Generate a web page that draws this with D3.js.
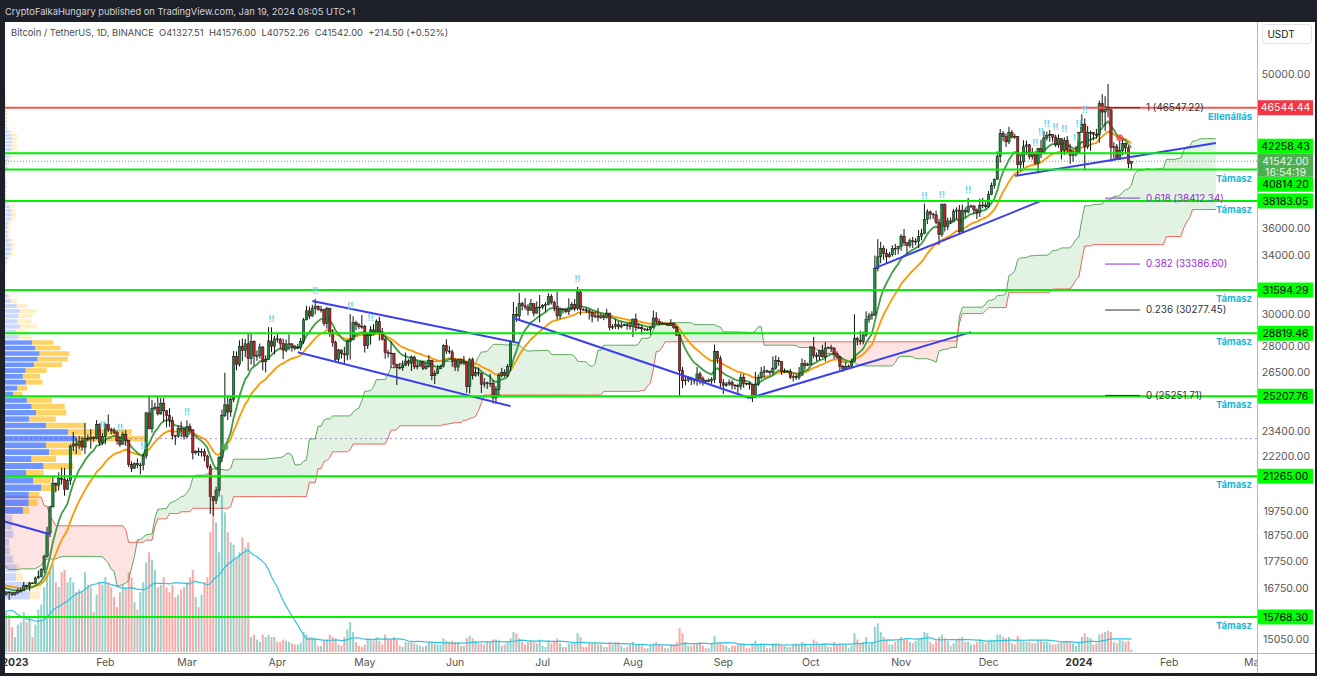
<!DOCTYPE html>
<html>
<head>
<meta charset="utf-8">
<script src="https://cdn.jsdelivr.net/npm/d3@7"></script>
<style>
  html, body { margin: 0; padding: 0; background: #1e2029; }
  svg { display: block; font-family: Inter, "Noto Sans", sans-serif; }
</style>
</head>
<body>
<svg id="chart" width="1317" height="676"></svg>
<script>

// ---- data (daily BTC/USDT, Binance) ----
const firstDay = '2022-08-01';

const closes = [
  22980,22820,22620,22610,23310,22950,23180,23810,23160,23950,23940,24400,24440,24300,24100,23850,23340,23190,20830,21140,21520,21400,21530,21370,21560,20240,20040,19550,20290,19800,20050,
  20130,19950,19830,19990,19800,18790,19290,19320,21360,21650,21830,22400,20170,20230,19700,19800,20110,19420,19540,18880,18490,19410,19290,18920,18800,19220,19080,19410,19590,19420,
  19310,19050,19630,20340,20160,19960,19530,19420,19450,19130,19060,19160,19380,19180,19070,19260,19550,19330,19120,19040,19160,19200,19570,19330,20080,20770,20290,20600,20810,20630,20490,
  20480,20150,20210,21150,21300,20910,20600,18540,15880,17590,17060,16810,16330,16620,16900,16660,16690,16700,16630,16280,15780,16230,16600,16600,16520,16460,16430,16210,16440,17160,
  16980,17090,16890,17110,16970,17090,16840,17220,17130,17130,17090,17210,17780,17800,17360,16630,16780,16740,16440,16900,16830,16820,16780,16830,16830,16920,16700,16550,16630,16600,16540,
  16620,16670,16670,16850,16830,16950,16940,17130,17180,17440,17940,18850,19930,20950,20870,21180,21130,20680,21070,22670,22780,22710,22920,22630,23060,23010,23080,23030,23740,22830,23130,
  23730,23490,23430,23330,22930,22760,23250,22960,21800,21630,21860,21780,21780,22200,24330,23520,24570,24630,24280,24840,24440,24190,23950,23190,23160,23550,23490,23140,
  23630,23470,22350,22430,22410,22410,22200,21700,20360,20190,20630,22140,24200,24750,24380,25050,27420,26970,28040,27770,28180,27310,28330,27480,27480,27990,27140,27270,28350,28030,28480,
  28450,28200,27800,28170,28180,28040,27920,27950,28330,29650,30230,29890,30390,30490,30320,30320,29430,30380,28800,28250,27270,27820,27590,27520,28310,28420,29470,29340,29250,29230,
  28070,28680,29030,28850,29540,28900,28450,27660,27630,27620,26990,26800,26780,26930,27170,27030,27400,26830,26890,27120,26750,26850,27220,26330,26470,26720,26860,28080,27750,27700,27220,
  26820,27250,27070,27120,25740,27240,26340,26500,26480,25850,25940,25900,25920,25120,25580,26340,26520,26340,26850,28310,30000,29890,30690,30550,30470,30270,30690,30080,30450,30470,
  30590,30620,31160,30770,30500,29900,30350,30290,30170,30410,30620,30380,31470,30320,30290,30230,30140,29860,29910,29800,29910,29790,30080,29180,29230,29350,29210,29310,29350,29280,29230,
  29700,29170,29180,29090,29040,29040,29180,29770,29560,29430,29400,29420,29300,29430,29170,28700,26620,26050,26090,26180,26120,26040,26430,26160,26060,26010,26090,26110,27720,27300,25940,
  25800,25870,25970,25810,25780,25750,26240,25910,25900,25840,25160,25840,26220,26530,26610,26570,26530,26760,27210,27130,26570,26580,26580,26250,26300,26220,26370,27020,26910,26970,
  27990,27490,27430,27790,27410,27930,27960,27920,27590,27390,26870,26750,26860,26860,27150,28500,28400,28320,28710,29670,29910,29990,33070,33900,34500,34150,33890,34080,34520,34480,34650,
  35420,34940,34730,35080,35010,35050,35420,35620,36700,37310,37130,37060,36490,35550,37880,36160,36590,36570,37360,37450,35760,37420,37290,37720,37780,37450,37240,37820,37850,37710,
  38690,39470,39970,41980,44080,43770,43290,44170,43720,43790,41240,41480,42890,43020,41940,42260,41360,42660,42270,43650,43860,43990,43730,43010,43580,42520,43440,42580,42070,42140,42280,
  44180,44950,42850,44150,44160,43970,43930,46950,46120,46630,46340,42780,42840,41730,42510,43140,42740,41327.51,41542.00
];

const highs = [
  23510,23460,23650,22990,23450,23360,23390,24250,23920,24230,24920,24450,24890,25050,25210,24280,24450,23600,23230,21390,21690,21560,21680,21900,21820,21890,20340,20140,20420,20560,20490,
  20200,20180,20050,20010,20050,20180,19460,19440,21500,21790,21850,22800,22490,20540,20380,19900,20190,20100,19690,19640,19960,19490,19500,19320,19180,19320,20380,19790,19650,20180,
  19480,19390,19720,20480,20370,20460,20060,19620,19520,19520,19260,19230,19530,19950,19230,19400,19690,19700,19350,19350,19250,19260,19700,19600,20410,21020,20870,20750,21090,20930,20840,
  20690,20800,20390,21300,21480,21370,20990,20700,18590,18150,17650,17140,16930,17200,17130,16980,16730,16870,16820,16640,16290,16300,16700,16810,16620,16670,16600,16480,16530,17250,
  17320,17110,17160,17200,17420,17110,17140,17300,17360,17230,17270,17240,18000,18390,17850,17530,16800,16870,16820,16950,16900,16850,16900,16870,16860,16940,16970,16790,16650,16640,16630,
  16630,16760,16780,16990,16880,16990,16970,17180,17400,17490,18000,19100,19970,21260,20990,21440,21650,21650,21180,22750,23370,23080,23170,23130,23810,23240,23500,23160,23960,23800,23300,
  23810,24250,23580,23570,23430,23160,23380,23450,22980,21950,21900,22090,21890,22310,24380,25250,25020,24870,25190,25120,25130,24480,24580,24130,23220,23670,23880,23600,
  23950,23790,23490,22470,22600,22550,22550,22260,21820,20370,20790,22200,24500,26500,25250,25190,27750,27730,28390,28500,28470,28800,28800,28390,27790,28200,28040,27500,29200,29180,28660,
  28800,28530,28500,28440,28750,28200,28100,28180,28530,29770,30550,30500,30620,31000,30590,30550,30340,30490,30420,29080,28370,27880,27820,28000,28400,30020,29880,29600,29450,29960,
  29340,28900,29270,29380,29680,29840,29140,28640,27830,28320,27640,26990,27050,27200,27660,27270,27490,27470,27190,27150,27160,27050,27500,27220,26630,26920,26930,28150,28450,28040,27830,
  27350,27300,27320,27460,27140,27350,27370,26800,26790,26500,26200,26000,26440,26080,25750,26480,26780,26690,27000,28400,30800,30500,31390,30810,31050,30660,31000,30700,30830,31260,
  30660,30800,31380,31320,30880,31500,30450,30380,30430,31040,30800,30990,31800,31640,30390,30450,30340,30240,30190,30410,30050,29990,30350,30100,29380,29680,29570,29530,29420,29450,29530,
  29740,30050,29410,29310,29100,29170,29240,30250,30140,29730,29550,29470,29450,29700,29490,29250,28780,26820,26260,26300,26270,26130,26820,26560,26290,26110,26180,26250,28140,27760,27480,
  26140,25980,26130,26080,25860,25890,26440,26420,25940,25980,25880,26550,26400,26820,26880,26670,26630,27440,27490,27390,27160,26740,26630,26720,26420,26390,26820,27310,27230,27090,
  28060,28590,27670,27830,28120,28290,28020,28120,27980,27730,27480,26950,27100,26970,27290,30000,28610,28980,28920,30200,30100,30200,34000,35200,35000,34720,34480,34250,34740,34850,34720,
  35580,35970,34940,35250,35380,35280,35890,35980,37970,37520,37410,37230,37400,36760,37980,37980,36850,36860,37540,37670,37850,37890,37660,38420,37890,37820,37580,38370,38430,38170,
  38990,39700,40050,42420,44490,44300,44050,44700,44370,44050,43800,42050,43430,43400,43090,42750,42440,42750,43490,44280,44230,44390,43820,43950,43980,43600,43700,43820,43120,42600,42900,
  44230,45900,45500,44770,44340,44200,44500,47250,47900,47700,48969,46500,43260,43100,43400,43580,43200,42900,41576.00
];

const lows = [
  22850,22670,22410,22430,22570,22940,22830,23050,22870,22700,23890,23580,24290,24150,23780,23560,23180,23130,20780,19770,20860,20850,21040,21140,21320,20140,19810,19520,19590,19560,19790,
  19600,19730,19650,19600,19640,18680,18550,18970,19310,21120,21340,21620,19850,19620,19500,19320,19650,19360,18230,18730,18150,18370,18620,18630,18630,18680,18820,18470,18840,19160,
  19160,19020,19060,19510,19740,19860,19320,19320,19320,19040,18860,19030,18190,19090,18980,19060,19180,19100,19090,18900,18660,19120,19080,19250,19240,20050,20200,20000,20560,20530,20250,
  20360,20050,20050,20170,21080,20860,20390,17170,15590,15790,16360,16750,16270,15810,16520,16570,16550,16630,16550,16240,15480,15770,16170,16550,16340,16400,16400,16000,16200,16420,
  16860,16790,16860,16880,16880,16900,16680,16740,17080,17110,17070,16870,17090,17650,17280,16530,16580,16650,16390,16400,16730,16660,16780,16760,16710,16800,16600,16460,16500,16350,16480,
  16500,16550,16600,16660,16760,16670,16910,16910,17100,17150,17310,17890,18690,19890,20550,20630,20900,20400,20650,20870,22440,22290,22520,22450,22300,22900,22550,22890,23000,22720,22740,
  22760,23360,23250,23260,22750,22630,22760,22680,21690,21460,21600,21630,21350,21530,22070,23500,23330,24460,24200,24240,23880,23590,23620,22990,22720,23070,23110,22990,
  23060,23230,22040,22270,22200,22170,21950,21600,19630,19550,20050,20360,21920,24120,23960,24130,24890,26640,26850,27150,27380,26600,26970,26900,27180,27300,26630,26520,27240,27680,27560,
  28260,27880,27280,27680,27800,27720,27790,27870,27800,28170,29620,29700,29850,30000,30230,30120,29270,29100,28600,28000,27120,27130,27320,27020,27210,27250,28390,29010,29080,29090,
  27660,27870,28130,28690,28800,28380,28380,27300,27370,26770,26740,25810,26690,26600,26880,26870,26600,26710,26690,26830,26650,26680,26800,26080,25870,26420,26710,26800,27570,27590,26840,
  26600,26570,26960,26950,25390,25350,26120,26280,26300,25380,25680,25600,25710,24820,24800,25170,26250,26250,26260,26600,28270,29520,29610,30250,30300,29940,30210,29870,30050,29500,
  30320,30170,30580,30630,30190,29680,29700,30050,30070,29950,30270,30200,30250,29950,30250,30080,29660,29500,29760,29550,29720,29630,29730,29000,29050,29090,29050,29120,29250,29030,29030,
  28590,28950,29100,28750,28960,28960,28700,29110,29380,29310,29360,29360,29260,29270,29080,28690,25170,25640,25800,25970,25810,25850,25780,25850,25780,25970,25970,25880,25920,27030,25660,
  25330,25720,25770,25580,25570,25360,25560,25660,25800,25570,24900,25130,25760,26130,26220,26480,26380,26390,26670,26890,26380,26480,26510,26150,26010,26100,26110,26320,26680,26890,
  26950,27330,27160,27210,27360,27150,27870,27700,27280,27320,26560,26550,26690,26820,26840,27100,28080,28130,28150,28600,29470,29660,29890,32870,33440,33680,33400,33860,33930,34030,34080,
  34340,34710,34100,34570,34550,34750,34530,35120,35560,36350,36710,36750,36330,34800,35370,35780,35880,36350,36500,36730,35620,35660,36870,37170,37600,37150,36740,36900,37590,37560,
  37620,38640,39200,39970,41420,43340,42820,43080,43620,43560,40220,40680,40970,42100,41700,41700,41260,40500,41810,42180,43420,43300,43280,42830,42750,41700,42100,42300,41300,41500,41960,
  42180,44150,40750,42630,42460,43420,43610,43190,44800,44300,45600,41500,41720,41720,41720,42050,42190,40950,40752.26
];

// volume in thousand BTC, starting at volFirstDay
const volFirstDay = '2022-12-01';
const volumes = [
  170,160,100,110,180,150,190,180,140,90,100,200,300,280,200,290,150,110,210,180,140,160,120,80,70,100,150,180,160,150,100,
  60,110,120,160,120,140,60,110,170,190,260,320,340,350,280,260,320,330,280,300,280,240,250,240,320,270,260,160,230,280,270,
  300,280,260,220,180,240,270,260,320,300,200,170,240,280,360,400,370,330,260,270,300,260,240,270,220,230,250,260,
  280,300,330,220,180,230,280,300,480,620,520,400,630,560,480,440,430,380,400,460,420,440,60,70,50,40,70,60,70,60,60,
  40,40,50,45,40,35,30,30,35,80,70,60,60,55,25,25,45,50,70,60,55,30,25,60,90,120,80,40,25,20,
  30,55,50,45,60,45,30,70,50,50,60,50,25,20,40,40,40,35,30,25,20,25,40,40,35,30,30,55,45,40,45,
  40,40,25,25,55,65,55,45,35,35,30,40,40,50,50,45,25,30,40,55,80,75,55,40,30,40,45,40,35,50,
  25,20,45,35,40,55,35,20,20,35,35,35,75,60,20,20,35,35,35,30,30,20,20,40,30,40,40,25,15,20,30,
  40,30,30,25,15,15,30,35,40,30,25,15,15,30,30,40,95,75,40,25,25,30,35,40,25,15,15,35,65,35,40,
  30,25,15,25,25,30,35,35,15,15,35,45,30,35,30,15,15,35,35,35,30,25,20,20,30,35,30,40,35,20,
  25,50,40,35,35,35,20,20,40,30,35,30,30,15,25,75,50,35,40,60,30,40,100,115,80,60,50,30,30,40,50,
  60,50,50,40,35,45,50,55,80,75,40,30,45,60,70,55,45,25,35,50,55,60,40,40,30,30,40,50,40,35,
  45,50,45,70,70,60,55,60,35,30,65,50,45,40,40,35,35,45,45,40,40,35,30,30,35,40,45,45,40,35,25,
  40,60,75,60,55,30,35,70,75,80,85,80,40,35,50,45,40,45,10
];

// axis labels
const priceTicks = [15050, 15750, 16750, 17750, 18750, 19750, 21000, 22200, 23400, 25000, 26500, 28000,
  30000, 32000, 34000, 36000, 38000, 40000, 42000, 46000, 50000];
const timeTickDates = ['2023-01-01','2023-02-01','2023-03-01','2023-04-01','2023-05-01','2023-06-01','2023-07-01',
  '2023-08-01','2023-09-01','2023-10-01','2023-11-01','2023-12-01','2024-01-01','2024-02-01','2024-03-01'];
const timeTickLabels = ['2023','Feb','Mar','Apr','May','Jun','Jul','Aug','Sep','Oct','Nov','Dec','2024','Feb','Mar'];

// drawings
const supportValues = [42258.43, 40814.20, 38183.05, 31594.29, 28819.46, 25207.76, 21265.00, 15768.30];
const supportNotes = ['', 'Támasz', 'Támasz', 'Támasz', 'Támasz', 'Támasz', 'Támasz', 'Támasz'];
const resistanceValue = 46544.44;
const resistanceNote = 'Ellenállás';

const fibRatios = ['1', '0.618', '0.382', '0.236', '0'];
const fibValues = [46547.22, 38412.34, 33386.60, 30277.45, 25251.71];
const fibFrom = '2024-01-10';
const fibTo = '2024-01-22';

const trendLines = [
  ['2022-12-28', 19330, '2023-01-13', 18800],
  ['2023-04-13', 30860, '2023-06-23', 28220],
  ['2023-04-08', 27680, '2023-06-20', 24680],
  ['2023-06-21', 29770, '2023-09-10', 25110],
  ['2023-09-10', 25110, '2023-11-25', 28890],
  ['2023-10-23', 33100, '2023-12-19', 38180],
  ['2023-12-10', 40270, '2024-02-17', 43190]
];

const alertDates = ['2023-01-31','2023-02-06','2023-02-14','2023-03-01','2023-03-30','2023-04-14','2023-04-26',
  '2023-05-03','2023-07-13','2023-11-09','2023-11-15','2023-11-24','2023-12-17','2023-12-19','2023-12-21',
  '2023-12-24','2023-12-27','2023-12-31','2024-01-01','2024-01-03'];
const crossDates = ['2023-03-14', '2024-01-15'];
const crossTypes = ['up', 'down'];

const countdown = '16:54:19';
const titleText = 'CryptoFalkaHungary published on TradingView.com, Jan 19, 2024 08:05 UTC+1';
const legendText = 'Bitcoin / TetherUS, 1D, BINANCE  O41327.51  H41576.00  L40752.26  C41542.00  +214.50 (+0.52%)';

// ---- build ----
const W = 1317, H = 676;
const plot = {left: 5, top: 22, right: 1257, bottom: 653};
const DAY = 864e5;
const parseDay = d3.utcParse('%Y-%m-%d');
const t0 = parseDay(firstDay).getTime();
const vOffset = Math.round((parseDay(volFirstDay).getTime() - t0) / DAY);

const bars = closes.map((c, i) => ({
    date: new Date(t0 + i * DAY),
    open: i ? closes[i - 1] : c,
    high: highs[i],
    low: lows[i],
    close: c,
    vol: i >= vOffset ? volumes[i - vOffset] : null
}));

const x = d3.scaleUtc()
    .domain([new Date(Date.UTC(2022, 11, 28, 13, 41)), new Date(Date.UTC(2024, 2, 2, 2, 24))])
    .range([plot.left, plot.right]);
const y = d3.scaleLog()
    .domain([14605, 55850])
    .range([plot.bottom, plot.top]);
const yv = d3.scaleLinear()
    .domain([0, d3.max(volumes)])
    .range([plot.bottom - 1, plot.bottom - 158]);

const svg = d3.select('#chart');
svg.append('rect').attr('width', W).attr('height', H).attr('fill', '#1e2029');
svg.append('rect').attr('x', 5).attr('y', 22).attr('width', 1310).attr('height', 651).attr('fill', '#ffffff');

svg.append('clipPath').attr('id', 'plotclip')
    .append('rect')
    .attr('x', plot.left).attr('y', plot.top)
    .attr('width', plot.right - plot.left).attr('height', plot.bottom - plot.top);
const g = svg.append('g').attr('clip-path', 'url(#plotclip)');

// ichimoku 20/60/120/30
const midOf = (i, n) => {
    const s = Math.max(0, i - n + 1);
    return (d3.max(highs.slice(s, i + 1)) + d3.min(lows.slice(s, i + 1))) / 2;
};
const cloud = [];
for (let i = 119; i < bars.length; i++) {
    cloud.push({
        date: new Date(t0 + (i + 29) * DAY),
        a: (midOf(i, 20) + midOf(i, 60)) / 2,
        b: midOf(i, 120)
    });
}
g.append('path').datum(cloud)
    .attr('fill', 'rgba(76,175,80,0.16)')
    .attr('d', d3.area().x(d => x(d.date)).y0(d => y(d.b)).y1(d => y(Math.max(d.a, d.b))));
g.append('path').datum(cloud)
    .attr('fill', 'rgba(244,67,54,0.15)')
    .attr('d', d3.area().x(d => x(d.date)).y0(d => y(d.a)).y1(d => y(Math.max(d.a, d.b))));
g.append('path').datum(cloud)
    .attr('fill', 'none').attr('stroke', '#5aa85a').attr('stroke-width', 1)
    .attr('d', d3.line().x(d => x(d.date)).y(d => y(d.a)));
g.append('path').datum(cloud)
    .attr('fill', 'none').attr('stroke', '#f0645a').attr('stroke-width', 1)
    .attr('d', d3.line().x(d => x(d.date)).y(d => y(d.b)));

// volume
const volBars = bars.filter(d => d.vol !== null);
g.append('g').selectAll('rect').data(volBars).join('rect')
    .attr('x', d => x(d.date) - 1)
    .attr('y', d => yv(d.vol))
    .attr('width', 2)
    .attr('height', d => yv(0) - yv(d.vol))
    .attr('fill', d => d.close >= d.open ? 'rgba(38,166,154,0.5)' : 'rgba(239,83,80,0.5)');

const volMA = volBars.map((d, i) => ({
    date: d.date,
    v: i >= 19 ? d3.mean(volBars.slice(i - 19, i + 1), e => e.vol) : null
})).filter(d => d.v !== null);
g.append('path').datum(volMA)
    .attr('fill', 'none').attr('stroke', '#2ec4dc').attr('stroke-width', 1.2)
    .attr('d', d3.line().x(d => x(d.date)).y(d => yv(d.v)));

// visible range volume profile (100 rows, 70% value area)
// each bar's volume is spread over its range; buy share taken from where it closed in that range
const visible = bars.filter(d => x(d.date) >= plot.left && d.vol !== null);
const vpLow = d3.min(visible, d => d.low);
const vpHigh = d3.max(visible, d => d.high);
const ROWS = 100;
const rowSize = (vpHigh - vpLow) / ROWS;
const rows = d3.range(ROWS).map(r => ({lo: vpLow + r * rowSize, hi: vpLow + (r + 1) * rowSize, up: 0, dn: 0}));
visible.forEach(d => {
    const span = Math.max(d.high - d.low, 1);
    const buy = (d.close - d.low) / span;
    rows.forEach(r => {
        const overlap = Math.min(r.hi, d.high) - Math.max(r.lo, d.low);
        if (overlap > 0) {
            const part = d.vol * overlap / span;
            r.up += part * buy;
            r.dn += part * (1 - buy);
        }
    });
});
rows.forEach(r => { r.tot = r.up + r.dn; r.va = false; });
const total = d3.sum(rows, r => r.tot);
let poc = d3.maxIndex(rows, r => r.tot);
let loI = poc, hiI = poc, acc = rows[poc].tot;
rows[poc].va = true;
while (acc < total * 0.7 && (loI > 0 || hiI < ROWS - 1)) {
    const below = loI > 0 ? rows[loI - 1].tot : -1;
    const above = hiI < ROWS - 1 ? rows[hiI + 1].tot : -1;
    if (above >= below) { hiI++; acc += above; rows[hiI].va = true; }
    else { loI--; acc += below; rows[loI].va = true; }
}
const vpW = d3.scaleLinear().domain([0, rows[poc].tot]).range([0, 140]);
const vp = g.append('g');
rows.forEach(r => {
    const y0 = y(r.hi) + 0.5, h = Math.max(y(r.lo) - y(r.hi) - 1, 0.5);
    vp.append('rect').attr('x', plot.left).attr('y', y0).attr('width', vpW(r.up)).attr('height', h)
        .attr('fill', r.va ? 'rgba(41,98,255,0.68)' : 'rgba(41,98,255,0.24)');
    vp.append('rect').attr('x', plot.left + vpW(r.up)).attr('y', y0).attr('width', vpW(r.dn)).attr('height', h)
        .attr('fill', r.va ? 'rgba(255,180,0,0.6)' : 'rgba(255,180,0,0.22)');
});
const pocPrice = (rows[poc].lo + rows[poc].hi) / 2;
g.append('line')
    .attr('x1', plot.left).attr('x2', plot.right)
    .attr('y1', y(pocPrice)).attr('y2', y(pocPrice))
    .attr('stroke', 'rgba(103,58,183,0.55)').attr('stroke-dasharray', '2,3');

// last price line
const last = bars[bars.length - 1];
g.append('line')
    .attr('x1', plot.left).attr('x2', plot.right)
    .attr('y1', y(last.close)).attr('y2', y(last.close))
    .attr('stroke', '#6aa86a').attr('stroke-dasharray', '1,2');

// EMAs
const ema = (n) => {
    const k = 2 / (n + 1);
    let prev = closes[0];
    return closes.map(c => (prev = c * k + prev * (1 - k)));
};
const emaFast = ema(10), emaSlow = ema(21);
const emaLine = d3.line().x(d => x(d.date)).y(d => y(d.v));
g.append('path').datum(bars.map((d, i) => ({date: d.date, v: emaSlow[i]})))
    .attr('fill', 'none').attr('stroke', '#ff9800').attr('stroke-width', 1.8).attr('d', emaLine);
g.append('path').datum(bars.map((d, i) => ({date: d.date, v: emaFast[i]})))
    .attr('fill', 'none').attr('stroke', '#3f9e44').attr('stroke-width', 1.8).attr('d', emaLine);

// candles
const candles = g.append('g');
candles.selectAll('line').data(bars).join('line')
    .attr('x1', d => x(d.date)).attr('x2', d => x(d.date))
    .attr('y1', d => y(d.high)).attr('y2', d => y(d.low))
    .attr('stroke', '#111').attr('stroke-width', 1);
candles.selectAll('rect').data(bars).join('rect')
    .attr('x', d => x(d.date) - 1.2)
    .attr('y', d => y(Math.max(d.open, d.close)))
    .attr('width', 2.4)
    .attr('height', d => Math.max(Math.abs(y(d.open) - y(d.close)), 0.8))
    .attr('fill', d => d.close >= d.open ? '#1f8a3b' : '#b3262a')
    .attr('stroke', '#111').attr('stroke-width', 0.5);

// trend lines
g.append('g').selectAll('line').data(trendLines).join('line')
    .attr('x1', d => x(parseDay(d[0]))).attr('y1', d => y(d[1]))
    .attr('x2', d => x(parseDay(d[2]))).attr('y2', d => y(d[3]))
    .attr('stroke', '#3a3ff0').attr('stroke-width', 2);

// support / resistance
g.append('g').selectAll('line').data(supportValues).join('line')
    .attr('x1', plot.left).attr('x2', plot.right)
    .attr('y1', d => y(d)).attr('y2', d => y(d))
    .attr('stroke', '#00f000').attr('stroke-width', 2);
g.append('line')
    .attr('x1', plot.left).attr('x2', plot.right)
    .attr('y1', y(resistanceValue)).attr('y2', y(resistanceValue))
    .attr('stroke', '#f05a50').attr('stroke-width', 2);

// fib levels
const fibColor = (r) => (r === '0.618' || r === '0.382') ? '#9c27e0' : '#333333';
fibValues.forEach((v, i) => {
    g.append('line')
        .attr('x1', x(parseDay(fibFrom))).attr('x2', x(parseDay(fibTo)))
        .attr('y1', y(v)).attr('y2', y(v))
        .attr('stroke', fibColor(fibRatios[i])).attr('stroke-width', 1);
    g.append('text')
        .attr('x', x(parseDay(fibTo)) + 6).attr('y', y(v)).attr('dy', '0.35em')
        .attr('font-size', 9.8).attr('fill', fibColor(fibRatios[i]))
        .text(`${fibRatios[i]} (${v.toFixed(2)})`);
});

// notes under levels
const noteG = g.append('g').attr('font-size', 9.5).attr('font-weight', 700).attr('fill', '#22b4d4').attr('text-anchor', 'end');
supportValues.forEach((v, i) => {
    if (supportNotes[i]) noteG.append('text').attr('x', plot.right - 5).attr('y', y(v) + 12).text(supportNotes[i]);
});
noteG.append('text').attr('x', plot.right - 5).attr('y', y(resistanceValue) + 12).text(resistanceNote);

// alert marks and cross dots
const byDate = new Map(bars.map((d, i) => [+d.date, i]));
g.append('g').selectAll('text').data(alertDates).join('text')
    .attr('x', d => x(parseDay(d)))
    .attr('y', d => y(bars[byDate.get(+parseDay(d))].high) - 5)
    .attr('text-anchor', 'middle').attr('font-size', 9).attr('font-weight', 700)
    .attr('fill', '#6fd0ef').text('!!');
crossDates.forEach((d, i) => {
    const idx = byDate.get(+parseDay(d));
    g.append('circle')
        .attr('cx', x(bars[idx].date)).attr('cy', y(emaFast[idx])).attr('r', 3.5)
        .attr('fill', crossTypes[i] === 'up' ? 'rgba(76,175,80,0.85)' : 'rgba(244,67,54,0.75)');
});

// ---- axes ----
svg.append('rect').attr('x', plot.right).attr('y', 22).attr('width', 58).attr('height', 651).attr('fill', '#fff');
svg.append('rect').attr('x', 5).attr('y', plot.bottom).attr('width', 1310).attr('height', 20).attr('fill', '#fff');
svg.append('line').attr('x1', plot.right + 0.5).attr('x2', plot.right + 0.5).attr('y1', 22).attr('y2', 673)
    .attr('stroke', '#b2b5be').attr('stroke-width', 1);
svg.append('line').attr('x1', 5).attr('x2', 1315).attr('y1', plot.bottom + 0.5).attr('y2', plot.bottom + 0.5)
    .attr('stroke', '#b2b5be').attr('stroke-width', 1);

svg.append('clipPath').attr('id', 'timeclip')
    .append('rect').attr('x', plot.left).attr('y', plot.bottom).attr('width', plot.right - plot.left).attr('height', 20);
svg.append('g').attr('clip-path', 'url(#timeclip)')
    .selectAll('text').data(timeTickDates).join('text')
    .attr('x', d => x(parseDay(d))).attr('y', 666)
    .attr('text-anchor', 'middle').attr('font-size', 10.5)
    .attr('font-weight', (d, i) => /^\d{4}$/.test(timeTickLabels[i]) ? 700 : 400)
    .attr('fill', (d, i) => /^\d{4}$/.test(timeTickLabels[i]) ? '#333' : '#555')
    .text((d, i) => timeTickLabels[i]);

// price labels (boxes push each other apart around the last-price box)
const last_y = y(last.close);
const boxTop = last_y - 7.5, boxBottom = last_y + 15.5;
const labelY = (v) => {
    const c = y(v);
    if (c + 7.5 > boxTop && c - 7.5 < boxBottom) return c < last_y ? boxTop - 7.5 : boxBottom + 7.5;
    return c;
};
const boxCenters = supportValues.concat([resistanceValue]).map(labelY).concat([last_y + 4]);
const tickFree = priceTicks.filter(v => boxCenters.every(c => Math.abs(y(v) - c) > (c === last_y + 4 ? 17 : 13)));

svg.append('g').selectAll('text').data(tickFree).join('text')
    .attr('x', 1286).attr('y', d => y(d)).attr('dy', '0.35em')
    .attr('text-anchor', 'middle').attr('font-size', 10.5).attr('fill', '#555')
    .text(d => d.toFixed(2));

const priceBox = (v, fill, color) => {
    const cy = labelY(v);
    svg.append('rect').attr('x', 1258).attr('y', cy - 7.5).attr('width', 55).attr('height', 15).attr('fill', fill);
    svg.append('text').attr('x', 1285.5).attr('y', cy).attr('dy', '0.35em')
        .attr('text-anchor', 'middle').attr('font-size', 10.5).attr('fill', color).text(v.toFixed(2));
};
supportValues.forEach(v => priceBox(v, '#00ff00', '#000'));
priceBox(resistanceValue, '#f23645', '#fff');
svg.append('rect').attr('x', 1258).attr('y', boxTop).attr('width', 55).attr('height', boxBottom - boxTop).attr('fill', '#4caf50');
svg.append('text').attr('x', 1285.5).attr('y', last_y).attr('dy', '0.35em')
    .attr('text-anchor', 'middle').attr('font-size', 10.5).attr('fill', '#eaf6ea').text(last.close.toFixed(2));
svg.append('text').attr('x', 1285.5).attr('y', last_y + 11.5).attr('dy', '0.35em')
    .attr('text-anchor', 'middle').attr('font-size', 10.5).attr('fill', '#eaf6ea').text(countdown);

// currency box
svg.append('rect').attr('x', 1262.5).attr('y', 24.5).attr('width', 49).attr('height', 19).attr('rx', 3)
    .attr('fill', '#fff').attr('stroke', '#e0e3eb');
svg.append('text').attr('x', 1281).attr('y', 34).attr('dy', '0.35em').attr('text-anchor', 'middle')
    .attr('font-size', 10).attr('fill', '#131722').text('USDT');

// header
svg.append('text').attr('x', 5).attr('y', 12).attr('dy', '0.35em')
    .attr('font-size', 9.3).attr('fill', '#d1d4dc').text(titleText);
svg.append('text').attr('x', 11).attr('y', 33).attr('dy', '0.35em')
    .attr('font-size', 9.4).attr('fill', '#4a4a4a').style('white-space', 'pre')
    .text(legendText);

</script>
</body>
</html>
